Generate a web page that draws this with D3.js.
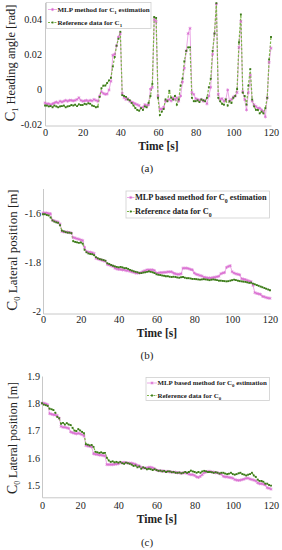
<!DOCTYPE html>
<html><head><meta charset="utf-8">
<script src="https://cdn.jsdelivr.net/npm/d3@7/dist/d3.min.js"></script>
<style>body{margin:0;background:#fff}svg{display:block}</style>
</head><body>
<script>
const xTicks = [0,20,40,60,80,100,120];
const aTicks = [-0.02,0,0.02,0.04];
const bTicks = [-2,-1.8,-1.6];
const cTicks = [1.5,1.6,1.7,1.8,1.9];

// one value per second, t = 0..120
const aMLP = [-0.008,-0.0085,-0.0085,-0.009,-0.0085,-0.008,-0.0075,-0.008,-0.007,-0.0075,
-0.007,-0.0065,-0.007,-0.0065,-0.0065,-0.0068,-0.0065,-0.006,-0.005,-0.0065,
-0.007,-0.0068,-0.0065,-0.007,-0.0065,-0.0068,-0.006,-0.0065,-0.007,-0.004,
-0.0015,-0.0025,-0.003,-0.0028,-0.0005,0.0045,0.0195,0.020,0.025,0.030,
0.032,-0.0025,-0.005,-0.006,-0.0055,-0.007,-0.0075,-0.008,-0.0085,-0.009,
-0.0095,-0.011,-0.0105,-0.009,-0.0095,-0.009,0.0,0.001,0.040,0.039,
-0.004,-0.0115,-0.0115,-0.0105,-0.007,-0.0065,-0.006,-0.0068,-0.005,-0.006,
-0.005,-0.007,-0.004,0.004,0.012,0.022,0.032,0.035,-0.002,-0.003,
-0.0055,-0.006,-0.0065,-0.006,-0.007,-0.0065,-0.0085,-0.004,0.001,0.020,
0.032,0.049,-0.003,-0.006,-0.0055,-0.007,-0.006,-0.0005,-0.007,-0.006,
-0.0045,-0.004,-0.002,0.024,0.039,-0.0015,-0.006,-0.012,-0.002,0.008,
-0.007,-0.009,-0.010,-0.011,-0.011,-0.012,-0.013,-0.016,-0.005,0.0155,0.0236];
const aRef = [-0.0095,-0.0095,-0.010,-0.0098,-0.0105,-0.0095,-0.010,-0.0105,-0.010,-0.0098,
-0.0095,-0.0105,-0.010,-0.0098,-0.0092,-0.0095,-0.009,-0.0098,-0.0088,-0.0092,
-0.0092,-0.0085,-0.0088,-0.0082,-0.0085,-0.0095,-0.0098,-0.0105,-0.0102,-0.0045,
0.0005,0.002,0.002,0.0035,0.005,0.0065,0.013,0.0185,0.025,0.029,
0.033,-0.0035,-0.004,-0.0045,-0.006,-0.0065,-0.008,-0.0095,-0.011,-0.012,
-0.0125,-0.011,-0.012,-0.010,-0.0105,-0.008,-0.004,0.003,0.0415,0.041,
-0.005,-0.015,-0.013,-0.0115,-0.006,-0.007,-0.001,-0.005,-0.006,-0.004,
-0.009,-0.006,0.002,0.006,0.016,0.022,0.024,0.024,-0.005,-0.007,
-0.007,-0.0065,-0.0075,-0.006,-0.0065,-0.007,-0.005,0.001,0.006,0.022,
0.032,0.0495,-0.005,-0.007,-0.0085,-0.009,-0.006,-0.0095,-0.007,-0.008,
-0.005,-0.004,0.0,0.027,0.043,-0.002,-0.004,-0.009,0.002,0.0115,
-0.006,-0.010,-0.012,-0.012,-0.014,-0.013,-0.014,-0.011,-0.005,0.017,0.030];

const bMLP = [-1.600,-1.600,-1.600,-1.602,-1.603,-1.630,-1.632,-1.635,-1.637,-1.645,
-1.675,-1.677,-1.677,-1.678,-1.680,-1.682,-1.700,-1.702,-1.705,-1.707,
-1.710,-1.712,-1.740,-1.757,-1.760,-1.760,-1.762,-1.765,-1.785,-1.787,
-1.790,-1.792,-1.795,-1.797,-1.810,-1.812,-1.815,-1.818,-1.825,-1.828,
-1.830,-1.830,-1.832,-1.832,-1.835,-1.835,-1.838,-1.840,-1.842,-1.845,
-1.845,-1.845,-1.842,-1.838,-1.835,-1.832,-1.832,-1.832,-1.832,-1.835,
-1.845,-1.845,-1.843,-1.843,-1.842,-1.842,-1.840,-1.840,-1.840,-1.845,
-1.848,-1.850,-1.850,-1.848,-1.825,-1.825,-1.825,-1.827,-1.830,-1.832,
-1.845,-1.850,-1.852,-1.855,-1.857,-1.862,-1.863,-1.865,-1.865,-1.865,
-1.863,-1.862,-1.860,-1.858,-1.848,-1.845,-1.843,-1.822,-1.818,-1.815,
-1.840,-1.845,-1.848,-1.850,-1.852,-1.868,-1.870,-1.872,-1.875,-1.878,
-1.880,-1.895,-1.925,-1.928,-1.930,-1.932,-1.940,-1.942,-1.945,-1.947,-1.948];
const bRef = [-1.605,-1.605,-1.608,-1.610,-1.618,-1.630,-1.635,-1.638,-1.640,-1.650,
-1.672,-1.675,-1.678,-1.680,-1.680,-1.682,-1.715,-1.718,-1.720,-1.722,
-1.720,-1.725,-1.750,-1.760,-1.765,-1.767,-1.768,-1.772,-1.780,-1.785,
-1.788,-1.790,-1.792,-1.795,-1.805,-1.808,-1.812,-1.815,-1.818,-1.820,
-1.822,-1.820,-1.822,-1.825,-1.825,-1.828,-1.832,-1.835,-1.838,-1.840,
-1.842,-1.845,-1.845,-1.843,-1.842,-1.840,-1.838,-1.840,-1.842,-1.845,
-1.850,-1.852,-1.853,-1.855,-1.856,-1.858,-1.858,-1.860,-1.861,-1.860,
-1.861,-1.863,-1.864,-1.862,-1.861,-1.864,-1.866,-1.866,-1.867,-1.869,
-1.869,-1.870,-1.871,-1.872,-1.871,-1.870,-1.871,-1.872,-1.874,-1.872,
-1.871,-1.872,-1.874,-1.876,-1.876,-1.877,-1.878,-1.879,-1.878,-1.876,
-1.874,-1.872,-1.874,-1.876,-1.878,-1.879,-1.880,-1.881,-1.883,-1.885,
-1.884,-1.888,-1.891,-1.894,-1.897,-1.900,-1.903,-1.906,-1.909,-1.912,-1.915];

const cMLP = [1.800,1.800,1.798,1.795,1.762,1.760,1.758,1.757,1.755,1.745,
1.715,1.712,1.712,1.710,1.708,1.695,1.692,1.690,1.688,1.690,
1.688,1.685,1.680,1.645,1.643,1.642,1.640,1.615,1.613,1.612,
1.610,1.610,1.608,1.607,1.575,1.575,1.575,1.575,1.576,1.577,
1.578,1.582,1.582,1.583,1.582,1.581,1.580,1.580,1.578,1.576,
1.572,1.570,1.565,1.563,1.562,1.563,1.565,1.565,1.563,1.560,
1.555,1.553,1.552,1.552,1.550,1.550,1.550,1.548,1.548,1.547,
1.547,1.545,1.545,1.543,1.545,1.545,1.543,1.540,1.538,1.538,
1.535,1.530,1.528,1.532,1.538,1.545,1.548,1.550,1.550,1.548,
1.547,1.545,1.545,1.542,1.540,1.532,1.530,1.530,1.528,1.527,
1.525,1.520,1.518,1.517,1.518,1.520,1.522,1.525,1.525,1.522,
1.520,1.518,1.515,1.508,1.505,1.505,1.503,1.500,1.490,1.488,1.485];
const cRef = [1.800,1.795,1.793,1.790,1.780,1.778,1.775,1.765,1.750,1.745,
1.725,1.728,1.722,1.727,1.722,1.720,1.710,1.700,1.698,1.705,
1.700,1.695,1.690,1.650,1.648,1.645,1.647,1.640,1.622,1.620,
1.618,1.620,1.617,1.618,1.600,1.590,1.585,1.587,1.583,1.585,
1.582,1.585,1.580,1.578,1.582,1.580,1.578,1.575,1.570,1.572,
1.565,1.568,1.560,1.565,1.562,1.558,1.560,1.558,1.555,1.558,
1.555,1.552,1.553,1.550,1.552,1.548,1.550,1.550,1.547,1.548,
1.545,1.545,1.546,1.543,1.545,1.548,1.545,1.548,1.553,1.550,
1.548,1.545,1.548,1.545,1.550,1.552,1.550,1.548,1.548,1.547,
1.545,1.547,1.545,1.542,1.545,1.545,1.542,1.540,1.542,1.545,
1.540,1.538,1.540,1.543,1.545,1.540,1.538,1.535,1.538,1.540,
1.545,1.535,1.530,1.520,1.515,1.515,1.512,1.505,1.505,1.500,1.498];

const MLP_LINE = "#eba8e6", MLP_MARK = "#d86ad0";
const REF_LINE = "#7cb548", REF_MARK = "#3b7a1a";
const SERIF = "'Liberation Serif','DejaVu Serif',serif";

const svg = d3.select("body").append("svg").attr("width",282).attr("height",550);

const panels = [
 {mlp:aMLP, ref:aRef, ticks:aTicks, dom:[-0.021,0.05], yr:[125.5,2.3], xr:[45,271], tickRight:42, tickPad:3.5,
  sub:"1", ylab:" Heading angle [rad]", ylabX:15, ylabY:63, ylabSize:12.5,
  titleY:150, capY:172, cap:"(a)",
  leg:{x:46.5,y:2.5,w:104.5,h:26,r1:9.5,r2:22.5,sx0:48,sx1:57,tx:57.5,fs:7,
       t1:["MLP method for C","1"," estimation"], t2:["Reference data for C","1",""]}},
 {mlp:bMLP, ref:bRef, ticks:bTicks, dom:[-2.01,-1.5], yr:[313.5,188.5], xr:[43,270], tickRight:41, tickPad:2,
  sub:"0", ylab:" Lateral position [m]", ylabX:16.5, ylabY:250, ylabSize:13,
  titleY:336.5, capY:359, cap:"(b)",
  leg:{x:126,y:191,w:143.5,h:27,r1:197.5,r2:211.5,sx0:127,sx1:134.5,tx:135,fs:8.3,
       t1:["MLP based method for C","0"," estimation"], t2:["Reference data for C","0",""]}},
 {mlp:cMLP, ref:cRef, ticks:cTicks, dom:[1.455,1.9], yr:[497.3,376], xr:[42,271], tickRight:40, tickPad:4,
  sub:"0", ylab:" Lateral position [m]", ylabX:16.5, ylabY:438, ylabSize:12,
  titleY:523, capY:546, cap:"(c)",
  leg:{x:146,y:377.5,w:123.5,h:23,r1:383,r2:395.5,sx0:147,sx1:157,tx:157.5,fs:6.9,
       t1:["MLP based method for C","0"," estimation"], t2:["Reference data for C","0",""]}}
];

const star = d3.symbol().type(d3.symbolAsterisk || d3.symbolCross).size(7);
const sq = d3.symbol().type(d3.symbolSquare).size(3.5);

function drawMarkers(g, type, x, y){
  if(type==="mlp") return g.append("path").attr("d",star()).attr("transform",`translate(${x},${y})`)
      .attr("fill","none").attr("stroke",MLP_MARK).attr("stroke-width",0.7);
  return g.append("path").attr("d",sq()).attr("transform",`translate(${x},${y})`).attr("fill",REF_MARK);
}

panels.forEach(p=>{
  const g = svg.append("g");
  const x = d3.scaleLinear().domain([0,120]).range(p.xr);
  const y = d3.scaleLinear().domain(p.dom).range(p.yr);

  const xa = g.append("g").attr("transform",`translate(0,${p.yr[0]})`)
    .call(d3.axisBottom(x).tickValues(xTicks).tickSize(0).tickPadding(p.tickPad).tickFormat(d=>String(d)));
  const ya = g.append("g").attr("transform",`translate(${p.xr[0]},0)`)
    .call(d3.axisLeft(y).tickValues(p.ticks).tickSize(0).tickPadding(p.xr[0]-p.tickRight).tickFormat(d=>String(d)));
  [xa,ya].forEach(a=>{
    a.select(".domain").attr("stroke","#c8c8c8").attr("stroke-width",1);
    a.selectAll("text").attr("font-family",SERIF).attr("font-size",10.2).attr("fill","#222");
  });

  const line = d3.line().x((d,i)=>x(i)).y(d=>y(d));
  g.append("path").datum(p.mlp).attr("d",line).attr("fill","none").attr("stroke",MLP_LINE).attr("stroke-width",1);
  g.append("path").datum(p.ref).attr("d",line).attr("fill","none").attr("stroke",REF_LINE)
    .attr("stroke-width",1.2).attr("stroke-dasharray","2.5,1.5");
  p.mlp.forEach((v,i)=>drawMarkers(g,"mlp",x(i),y(v)));
  p.ref.forEach((v,i)=>drawMarkers(g,"ref",x(i),y(v)));

  g.append("text").attr("x",(p.xr[0]+p.xr[1])/2+0.5).attr("y",p.titleY).attr("text-anchor","middle")
    .attr("font-family",SERIF).attr("font-weight","bold").attr("font-size",11.5).attr("fill","#222").text("Time [s]");
  const yl = g.append("text").attr("transform",`translate(${p.ylabX},${p.ylabY}) rotate(-90)`)
    .attr("text-anchor","middle").attr("font-family",SERIF).attr("font-size",p.ylabSize).attr("fill","#222");
  yl.append("tspan").attr("font-size",p.ylabSize*1.15).text("C");
  yl.append("tspan").attr("font-size",p.ylabSize*0.65).attr("dy",3).text(p.sub);
  yl.append("tspan").attr("dy",-3).text(p.ylab);

  g.append("text").attr("x",147).attr("y",p.capY).attr("text-anchor","middle")
    .attr("font-family",SERIF).attr("font-size",11).attr("fill","#222").text(p.cap);

  const L = p.leg;
  g.append("rect").attr("x",L.x).attr("y",L.y).attr("width",L.w).attr("height",L.h)
    .attr("fill","#fff").attr("stroke","#cfcfcf").attr("stroke-width",0.8);
  [[L.r1,"mlp",L.t1],[L.r2,"ref",L.t2]].forEach(([ry,type,t])=>{
    const ln = g.append("line").attr("x1",L.sx0).attr("x2",L.sx1).attr("y1",ry).attr("y2",ry)
      .attr("stroke",type==="mlp"?MLP_LINE:REF_LINE).attr("stroke-width",1);
    if(type==="ref") ln.attr("stroke-dasharray","2,1.2");
    drawMarkers(g,type,(L.sx0+L.sx1)/2,ry);
    const tx = g.append("text").attr("x",L.tx).attr("y",ry+L.fs*0.33).attr("font-family",SERIF)
      .attr("font-weight","bold").attr("font-size",L.fs).attr("fill","#222");
    tx.append("tspan").text(t[0]);
    tx.append("tspan").attr("font-size",L.fs*0.7).attr("dy",L.fs*0.3).text(t[1]);
    if(t[2]) tx.append("tspan").attr("dy",-L.fs*0.3).text(t[2]);
  });
});
</script>
</body></html>
